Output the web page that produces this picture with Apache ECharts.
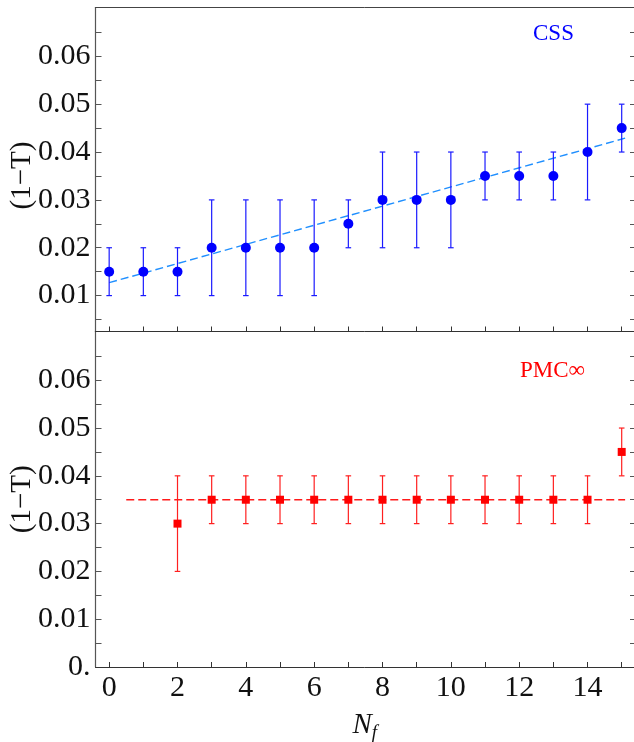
<!DOCTYPE html>
<html><head><meta charset="utf-8">
<script src="https://cdn.jsdelivr.net/npm/echarts@6/dist/echarts.min.js"></script>
<style>html,body{margin:0;padding:0;background:#fff}#c{width:634px;height:742px}</style>
</head><body><div id="c"></div>
<script>
// ---- data ----
const nf = [0,1,2,3,4,5,6,7,8,9,10,11,12,13,14,15];
const cssVal  = [0.015,0.015,0.015,0.02,0.02,0.02,0.02,0.025,0.03,0.03,0.03,0.035,0.035,0.035,0.04,0.045];
const cssLow  = [0.01,0.01,0.01,0.01,0.01,0.01,0.01,0.02,0.02,0.02,0.02,0.03,0.03,0.03,0.03,0.04];
const cssHigh = [0.02,0.02,0.02,0.03,0.03,0.03,0.03,0.03,0.04,0.04,0.04,0.04,0.04,0.04,0.05,0.05];
const pmcNf   = [2,3,4,5,6,7,8,9,10,11,12,13,14,15];
const pmcVal  = [0.03,0.035,0.035,0.035,0.035,0.035,0.035,0.035,0.035,0.035,0.035,0.035,0.035,0.045];
const pmcLow  = [0.02,0.03,0.03,0.03,0.03,0.03,0.03,0.03,0.03,0.03,0.03,0.03,0.03,0.04];
const pmcHigh = [0.04,0.04,0.04,0.04,0.04,0.04,0.04,0.04,0.04,0.04,0.04,0.04,0.04,0.05];
const cssFitX = [0, 15.1];
const cssFitY = [0.0127, 0.0429];
const pmcFitX = [0.5, 15.1];
const pmcFitY = [0.035, 0.035];
const xTickVals  = [0,1,2,3,4,5,6,7,8,9,10,11,12,13,14,15];
const xLabelVals = [0,2,4,6,8,10,12,14];
const yTickVals  = [0.005,0.01,0.015,0.02,0.025,0.03,0.035,0.04,0.045,0.05,0.055,0.06,0.065];
const yLabelTop  = [0.01,0.02,0.03,0.04,0.05,0.06];
const yLabelBot  = [0,0.01,0.02,0.03,0.04,0.05,0.06];

const FONT = 'Liberation Serif';
const AX = '#555';
const chart = echarts.init(document.getElementById('c'), null, {renderer:'canvas'});

function errBars(xs, lo, hi, color, xi, yi){
  return {
    type:'custom', xAxisIndex:xi, yAxisIndex:yi, z:3,
    data: xs.map((x,i)=>[x, lo[i], hi[i]]),
    encode:{x:0, y:[1,2]},
    renderItem(params, api){
      const x = api.value(0);
      const p1 = api.coord([x, api.value(1)]);
      const p2 = api.coord([x, api.value(2)]);
      const w = 2.8, st = {stroke:color, lineWidth:1.2};
      return {type:'group', children:[
        {type:'line', shape:{x1:p1[0], y1:p1[1], x2:p2[0], y2:p2[1]}, style:st},
        {type:'line', shape:{x1:p1[0]-w, y1:p1[1], x2:p1[0]+w, y2:p1[1]}, style:st},
        {type:'line', shape:{x1:p2[0]-w, y1:p2[1], x2:p2[0]+w, y2:p2[1]}, style:st}
      ]};
    }
  };
}
const fmtY = v => (Math.abs(v) < 1e-9 ? '0.' : v.toFixed(2));
function xAx(grid, showLabels, name){
  return {
    type:'value', gridIndex:grid, min:-0.4, max:15.36, position:'bottom',
    axisLine:{show:true, onZero:false, lineStyle:{color:'#333', width:1}},
    axisTick:{show:true, inside:true, length:5, customValues:xTickVals, lineStyle:{color:'#333'}},
    axisLabel:{show:showLabels, customValues:xLabelVals, margin:6, fontFamily:FONT, fontSize:30, color:'#111'},
    splitLine:{show:false},
    name: name || '', nameLocation:'middle', nameGap:42, nameMoveOverlap:false,
    nameTextStyle:{fontFamily:FONT, color:'#111', rich:{
      n:{fontFamily:FONT, fontStyle:'italic', fontSize:29, color:'#111'},
      f:{fontFamily:FONT, fontStyle:'italic', fontSize:19, color:'#111', padding:[14,0,0,0]}
    }}
  };
}
function yAx(grid, min, labels, pad){
  return {
    type:'value', gridIndex:grid, min:min, max:0.0702, position:'left',
    axisLine:{show:true, onZero:false, lineStyle:{color:AX, width:1.2}},
    axisTick:{show:true, inside:true, length:6, customValues:yTickVals, lineStyle:{color:AX}},
    axisLabel:{customValues:labels, formatter:fmtY, margin:5, fontFamily:FONT, fontSize:30, color:'#111'},
    splitLine:{show:false},
    name:'(1\u2212T)', nameLocation:'middle', nameGap:59, nameRotate:90, nameMoveOverlap:false,
    nameTextStyle:{fontFamily:FONT, fontSize:29, color:'#111', padding:pad}
  };
}
function yAxR(grid, min){
  return {
    type:'value', gridIndex:grid, min:min, max:0.0702, position:'right',
    axisLine:{show:true, onZero:false, lineStyle:{color:AX}},
    axisTick:{show:true, inside:true, length:4, customValues:yTickVals, lineStyle:{color:AX}},
    axisLabel:{show:false}, splitLine:{show:false}
  };
}

chart.setOption({
  animation:false,
  backgroundColor:'#fff',
  grid:[
    {left:95.5, right:0, top:7.5, height:324, containLabel:false, outerBoundsMode:'none'},
    {left:95.5, right:0, top:331.5, height:335.5, containLabel:false, outerBoundsMode:'none'}
  ],
  xAxis:[
    xAx(0, false),
    {type:'value', gridIndex:0, min:-0.4, max:15.36, position:'top',
     axisLine:{show:true, onZero:false, lineStyle:{color:'#444'}}, axisTick:{show:false}, axisLabel:{show:false}, splitLine:{show:false}},
    xAx(1, true, '{n|N}{f|f}')
  ],
  yAxis:[
    yAx(0, 0.0025, yLabelTop, [0,12,0,0]),
    yAxR(0, 0.0025),
    yAx(1, 0, yLabelBot, 0),
    yAxR(1, 0)
  ],
  graphic:[
    {type:'text', left:533, top:22, style:{text:'CSS', fill:'#0000ff', font:'23px "Liberation Serif"'}},
    {type:'text', left:520, top:359, style:{text:'PMC\u221e', fill:'#ff0000', font:'23px "Liberation Serif"'}}
  ],
  series:[
    {type:'line', xAxisIndex:0, yAxisIndex:0, z:2, symbol:'none',
     data:cssFitX.map((x,i)=>[x, cssFitY[i]]),
     lineStyle:{color:'#1f8fff', width:1.4, type:[8,4]}},
    errBars(nf, cssLow, cssHigh, '#1a1aff', 0, 0),
    {type:'scatter', xAxisIndex:0, yAxisIndex:0, z:4, symbol:'circle', symbolSize:10,
     data:nf.map((x,i)=>[x, cssVal[i]]), itemStyle:{color:'#0000ff', opacity:1}},
    {type:'line', xAxisIndex:2, yAxisIndex:2, z:2, symbol:'none',
     data:pmcFitX.map((x,i)=>[x, pmcFitY[i]]),
     lineStyle:{color:'#ff1a1a', width:1.4, type:[8,4]}},
    errBars(pmcNf, pmcLow, pmcHigh, '#ff2020', 2, 2),
    {type:'scatter', xAxisIndex:2, yAxisIndex:2, z:4, symbol:'rect', symbolSize:8,
     data:pmcNf.map((x,i)=>[x, pmcVal[i]]), itemStyle:{color:'#ff0000', opacity:1}}
  ]
});
</script></body></html>
